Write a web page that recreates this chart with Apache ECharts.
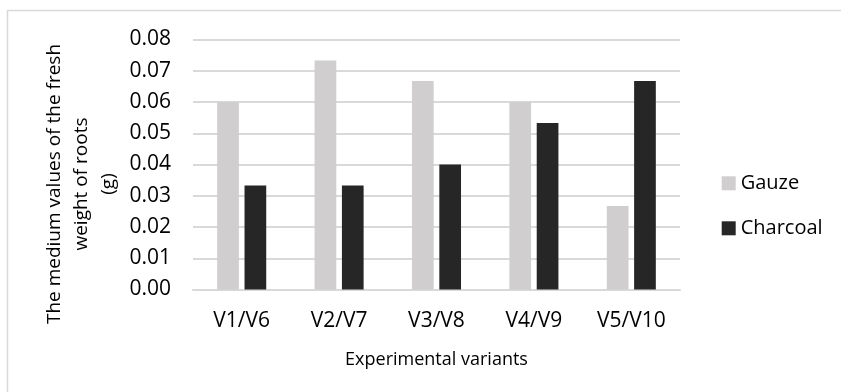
<!DOCTYPE html>
<html>
<head>
<meta charset="utf-8">
<script src="https://cdn.jsdelivr.net/npm/echarts@6/dist/echarts.min.js"></script>
<style>
html,body{margin:0;padding:0;background:#fff;}
#c{width:841px;height:392px;}
</style>
</head>
<body>
<div id="c"></div>
<script>
var categories = ['V1/V6', 'V2/V7', 'V3/V8', 'V4/V9', 'V5/V10'];
var gauze = [0.0600, 0.0733, 0.0667, 0.0600, 0.0267];
var charcoal = [0.0333, 0.0333, 0.0400, 0.0533, 0.0667];
var seriesNames = ['Gauze', 'Charcoal'];
var yTitle = 'The medium values of the fresh\nweight of roots\n(g)';
var xTitle = 'Experimental variants';

var FONT = 'Open Sans';
var chart = echarts.init(document.getElementById('c'), null, {renderer: 'canvas'});
chart.setOption({
  animation: false,
  backgroundColor: '#ffffff',
  textStyle: {fontFamily: FONT, color: '#000'},
  graphic: [
    {
      type: 'rect',
      shape: {x: 7.5, y: 10.5, width: 850, height: 400},
      style: {fill: 'none', stroke: '#d9d9d9', lineWidth: 1.5},
      silent: true
    },
    {
      type: 'text',
      x: 82, y: 184,
      rotation: Math.PI / 2,
      style: {
        text: yTitle,
        fontFamily: FONT, fontSize: 19, lineHeight: 27,
        fill: '#000', align: 'center', verticalAlign: 'middle'
      }
    }
  ],
  grid: {left: 193, right: 161, top: 39.5, bottom: 102.5, containLabel: false},
  legend: {
    orient: 'vertical',
    left: 721.7, top: 173.3,
    padding: 0,
    itemWidth: 14, itemHeight: 14, itemGap: 25,
    icon: 'rect',
    textStyle: {fontFamily: FONT, fontSize: 20, lineHeight: 20, color: '#000'},
    data: seriesNames
  },
  xAxis: {
    type: 'category',
    data: categories,
    name: xTitle,
    nameLocation: 'middle',
    nameGap: 61,
    nameTextStyle: {fontFamily: FONT, fontSize: 18, color: '#000'},
    axisLine: {lineStyle: {color: '#d9d9d9', width: 2}},
    axisTick: {show: false},
    axisLabel: {fontFamily: FONT, fontSize: 21, color: '#000', margin: 21}
  },
  yAxis: {
    type: 'value',
    min: 0, max: 0.08, interval: 0.01,
    axisLine: {show: false},
    axisTick: {show: false},
    splitLine: {lineStyle: {color: '#d9d9d9', width: 2}},
    axisLabel: {
      fontFamily: FONT, fontSize: 21, color: '#000', margin: 22,
      formatter: function (v) { return v.toFixed(2); }
    }
  },
  series: [
    {
      name: seriesNames[0], type: 'bar', data: gauze,
      barWidth: 21.7, barGap: '26%',
      itemStyle: {color: '#d0cece'}
    },
    {
      name: seriesNames[1], type: 'bar', data: charcoal,
      barWidth: 21.7, barGap: '26%',
      itemStyle: {color: '#262626'}
    }
  ]
});
</script>
</body>
</html>
